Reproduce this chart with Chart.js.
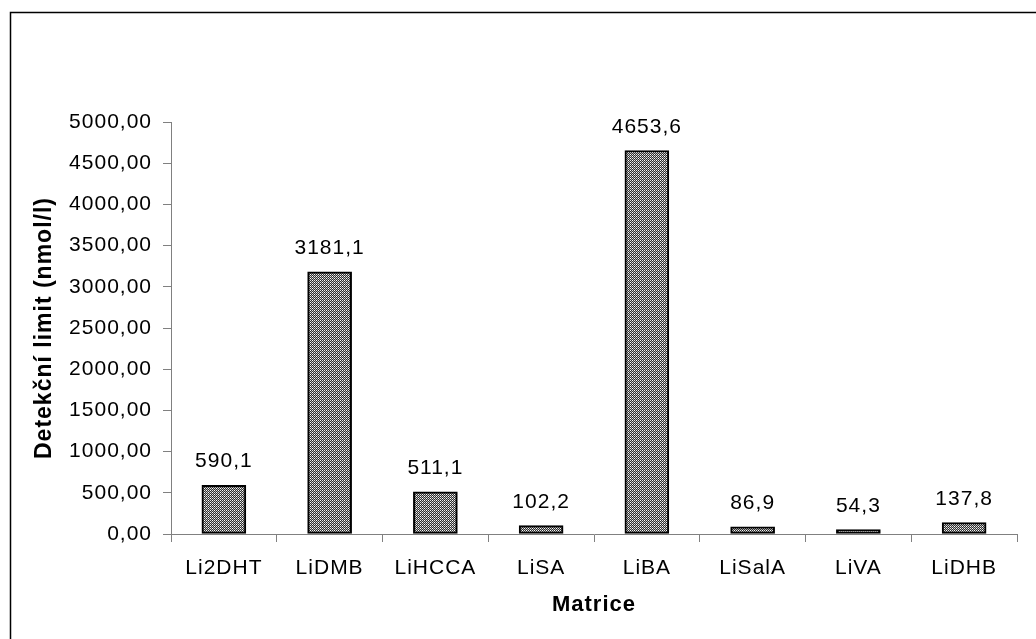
<!DOCTYPE html>
<html>
<head>
<meta charset="utf-8">
<script src="https://cdn.jsdelivr.net/npm/chart.js@4"></script>
<style>
  html, body { margin: 0; padding: 0; background: #fff; }
  #wrap { width: 1036px; height: 639px; position: relative; }
</style>
</head>
<body>
<div id="wrap"><canvas id="detChart"></canvas></div>
<script>
/* ================================================
   DATA
================================================ */
const categories = ['Li2DHT', 'LiDMB', 'LiHCCA', 'LiSA', 'LiBA', 'LiSalA', 'LiVA', 'LiDHB'];
const limits     = [590.1, 3181.1, 511.1, 102.2, 4653.6, 86.9, 54.3, 137.8];
const yMin  = 0;
const yMax  = 5000;
const yStep = 500;
const xTitle = 'Matrice';
const yTitle = 'Detekční limit (nmol/l)';

const FONT = "'Liberation Sans', Arial, sans-serif";
const AXIS_GREY = '#808080';

/* ================================================
   HELPERS
================================================ */
function comma(v, d) { return v.toFixed(d).replace('.', ','); }

// small crosshatch tile like the old office fill
function hatchPattern() {
  const c = document.createElement('canvas');
  c.width = 4; c.height = 4;
  const g = c.getContext('2d');
  for (let y = 0; y < 4; y++) {
    for (let x = 0; x < 4; x++) {
      let col;
      if ((x + y) % 2 === 1) col = '#303030';
      else if ((x === 0 && y === 0) || (x === 2 && y === 2)) col = '#ffffff';
      else if ((x === 2 && y === 0) || (x === 0 && y === 2)) col = '#e4e4e4';
      else col = '#b0b0b0';
      g.fillStyle = col;
      g.fillRect(x, y, 1, 1);
    }
  }
  return g.createPattern(c, 'repeat');
}

const framePlugin = {
  id: 'frame',
  beforeDraw(chart) {
    const ctx = chart.ctx;
    ctx.save();
    ctx.fillStyle = '#fff';
    ctx.fillRect(0, 0, chart.width, chart.height);
    ctx.strokeStyle = '#000';
    ctx.lineWidth = 1.5;
    ctx.beginPath();
    ctx.moveTo(10.5, chart.height);
    ctx.lineTo(10.5, 12.5);
    ctx.lineTo(chart.width, 12.5);
    ctx.stroke();
    ctx.restore();
    ctx.letterSpacing = '1px';
  },
};

const valueLabels = {
  id: 'valueLabels',
  afterDatasetsDraw(chart) {
    const ctx = chart.ctx;
    const meta = chart.getDatasetMeta(0);
    ctx.save();
    ctx.font = '21px ' + FONT;
    ctx.fillStyle = '#000';
    ctx.textAlign = 'center';
    ctx.textBaseline = 'alphabetic';
    meta.data.forEach((bar, i) => {
      ctx.fillText(comma(limits[i], 1), bar.x, bar.y - 18);
    });
    ctx.restore();
  },
};

/* ================================================
   CHART
================================================ */
document.addEventListener('DOMContentLoaded', () => {
  const ctx = document.getElementById('detChart');

  new Chart(ctx, {
    type: 'bar',
    data: {
      labels: categories,
      datasets: [{
        data: limits,
        backgroundColor: hatchPattern(),
        borderColor: '#000',
        borderWidth: 2,
        borderSkipped: false,
        barThickness: 44,
      }],
    },
    options: {
      responsive: true,
      maintainAspectRatio: false,
      animation: false,
      layout: { padding: { left: 0, top: 122, right: 19, bottom: 0 } },
      plugins: {
        legend: { display: false },
        tooltip: { enabled: false },
      },
      scales: {
        x: {
          afterFit: s => { s.height = 105; },
          grid: {
            display: true,
            offset: true,
            drawOnChartArea: false,
            color: AXIS_GREY,
            tickLength: 8,
          },
          border: { display: true, color: AXIS_GREY, width: 1 },
          ticks: {
            color: '#000',
            font: { family: FONT, size: 21 },
            padding: 14,
            maxRotation: 0,
          },
          title: {
            display: true,
            text: xTitle,
            color: '#000',
            font: { family: FONT, size: 22, weight: 'bold' },
            padding: { top: 0, bottom: 21 },
          },
        },
        y: {
          min: yMin,
          max: yMax,
          afterFit: s => { s.width = 171; },
          grid: {
            display: true,
            drawOnChartArea: false,
            color: AXIS_GREY,
            tickLength: 8,
          },
          border: { display: true, color: AXIS_GREY, width: 1 },
          ticks: {
            stepSize: yStep,
            color: '#000',
            font: { family: FONT, size: 21 },
            padding: 11,
            callback: v => comma(v, 2),
          },
          title: {
            display: true,
            text: yTitle,
            color: '#000',
            font: { family: FONT, size: 23, weight: 'bold' },
            padding: { top: 31, bottom: 0 },
          },
        },
      },
    },
    plugins: [framePlugin, valueLabels],
  });
});
</script>
</body>
</html>
